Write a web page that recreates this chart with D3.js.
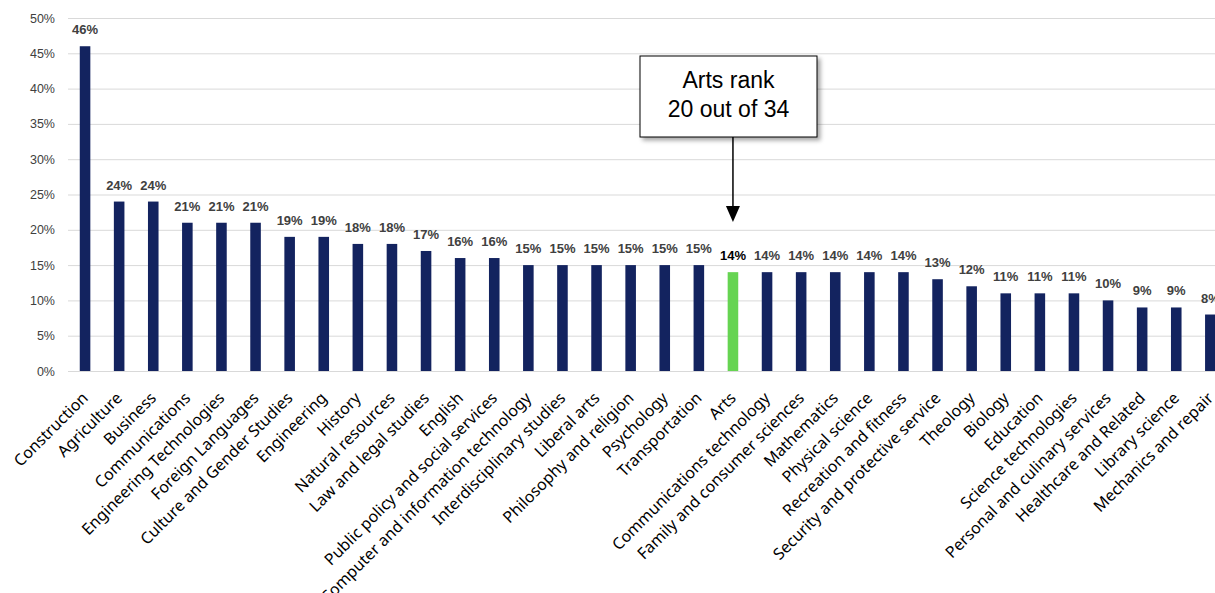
<!DOCTYPE html>
<html>
<head>
<meta charset="utf-8">
<script src="https://cdn.jsdelivr.net/npm/d3@7"></script>
<style>
  body { margin: 0; background: #fff; }
  svg { display: block; }
</style>
</head>
<body>
<svg id="chart" width="1215" height="593"></svg>
<script>
// categorias y valores (en %)
var categories = ["Construction","Agriculture","Business","Communications","Engineering Technologies",
  "Foreign Languages","Culture and Gender Studies","Engineering","History","Natural resources",
  "Law and legal studies","English","Public policy and social services","Computer and information technology",
  "Interdisciplinary studies","Liberal arts","Philosophy and religion","Psychology","Transportation","Arts",
  "Communications technology","Family and consumer sciences","Mathematics","Physical science",
  "Recreation and fitness","Security and protective service","Theology","Biology","Education",
  "Science technologies","Personal and culinary services","Healthcare and Related","Library science",
  "Mechanics and repair"];
var values = [46,24,24,21,21,21,19,19,18,18,17,16,16,15,15,15,15,15,15,14,14,14,14,14,14,13,12,11,11,11,10,9,9,8];
var yTicks = [0,5,10,15,20,25,30,35,40,45,50];
var highlight = "Arts";
var noteLines = ["Arts rank", "20 out of 34"];

var svg = d3.select("#chart");
var mLeft = 68, mTop = 18, plotH = 353;
var step = 34.1;

var x = d3.scaleBand()
  .domain(categories)
  .range([mLeft, mLeft + step * categories.length])
  .paddingInner(0.69)
  .paddingOuter(0.345);

var y = d3.scaleLinear().domain([0, 50]).range([mTop + plotH, mTop]);

// lineas de la grilla
svg.append("g").selectAll("line")
  .data(yTicks).enter().append("line")
  .attr("x1", mLeft).attr("x2", 1215)
  .attr("y1", d => y(d) + 0.5).attr("y2", d => y(d) + 0.5)
  .attr("stroke", "#d9d9d9").attr("stroke-width", 1);

// eje y
var yAxis = svg.append("g")
  .attr("transform", "translate(" + (mLeft - 13) + ",0)")
  .call(d3.axisLeft(y).tickValues(yTicks).tickFormat(d => d + "%").tickSize(0).tickPadding(0));
yAxis.select(".domain").remove();
yAxis.selectAll("text")
  .attr("font-family", "Arial, 'Liberation Sans', sans-serif")
  .attr("font-size", 12.5)
  .attr("fill", "#404040");

// barras
svg.append("g").selectAll("rect")
  .data(categories).enter().append("rect")
  .attr("x", d => x(d))
  .attr("width", x.bandwidth())
  .attr("y", (d, i) => y(values[i]))
  .attr("height", (d, i) => y(0) - y(values[i]))
  .attr("fill", d => d == highlight ? "#66d452" : "#13235f");

// etiquetas de valor
svg.append("g").selectAll("text")
  .data(categories).enter().append("text")
  .attr("x", d => x(d) + x.bandwidth() / 2)
  .attr("y", (d, i) => y(values[i]) - 12)
  .attr("text-anchor", "middle")
  .attr("font-family", "Arial, 'Liberation Sans', sans-serif")
  .attr("font-weight", "bold")
  .attr("font-size", 13)
  .attr("fill", d => d == highlight ? "#000" : "#404040")
  .text((d, i) => values[i] + "%");

// etiquetas de categoria
svg.append("g").selectAll("text")
  .data(categories).enter().append("text")
  .attr("transform", d => "translate(" + (x(d) + x.bandwidth() / 2 + 4) + "," + (y(0) + 28) + ") rotate(-45)")
  .attr("text-anchor", "end")
  .attr("font-family", "'Noto Sans', 'Open Sans', sans-serif")
  .attr("font-size", 16)
  .attr("fill", "#000")
  .text(d => d);

// anotacion
var bx = 640, by = 56, bw = 177, bh = 81;
var ax = x(highlight) + x.bandwidth() / 2;
svg.append("defs").append("filter").attr("id", "sombra")
  .append("feDropShadow").attr("dx", 3).attr("dy", 3).attr("stdDeviation", 2)
  .attr("flood-color", "#000").attr("flood-opacity", 0.35);
svg.append("rect")
  .attr("x", bx).attr("y", by).attr("width", bw).attr("height", bh)
  .attr("fill", "#fff").attr("stroke", "#000").attr("stroke-width", 1)
  .attr("filter", "url(#sombra)");
svg.append("g").selectAll("text")
  .data(noteLines).enter().append("text")
  .attr("x", bx + bw / 2)
  .attr("y", (d, i) => by + 32 + i * 29)
  .attr("text-anchor", "middle")
  .attr("font-family", "Arial, 'Liberation Sans', sans-serif")
  .attr("font-size", 23)
  .attr("fill", "#000")
  .text(d => d);
svg.append("line")
  .attr("x1", ax).attr("x2", ax)
  .attr("y1", by + bh).attr("y2", 207)
  .attr("stroke", "#000").attr("stroke-width", 1.5);
svg.append("path")
  .attr("d", "M" + (ax - 7) + ",206 L" + (ax + 7) + ",206 L" + ax + ",222 Z")
  .attr("fill", "#000");
</script>
</body>
</html>
